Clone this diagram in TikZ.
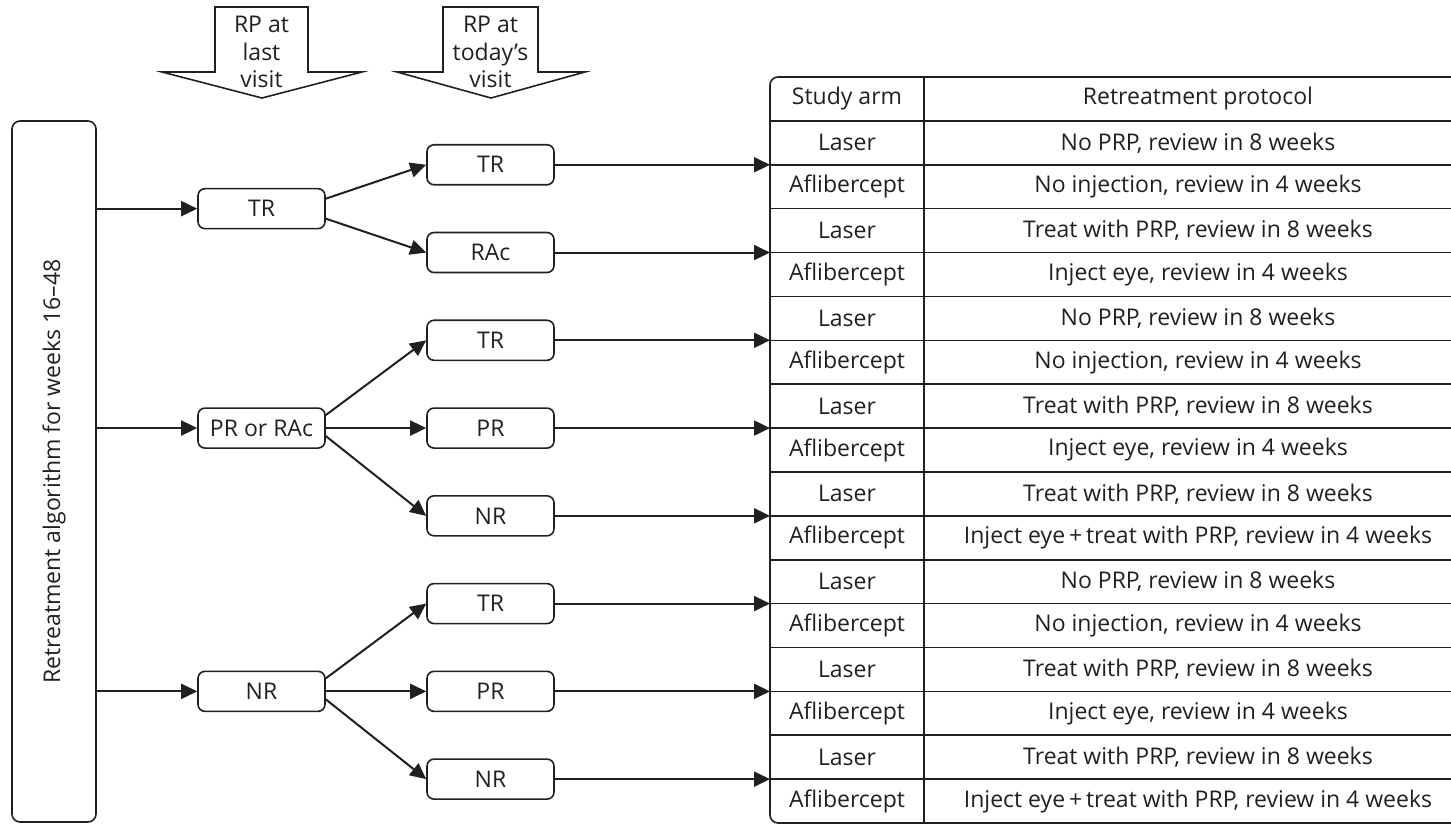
\documentclass[tikz,border=0pt]{standalone}
\usepackage{fontspec}
\setmainfont{Open Sans}
\usetikzlibrary{arrows.meta,calc}
\definecolor{ink}{RGB}{35,31,32}
\def\comma{,}
\begin{document}
\begin{tikzpicture}[x=1pt,y=-1pt,
  every node/.style={text=ink},
  fnt/.style={font=\fontsize{23}{27}\selectfont},
  box/.style={draw=ink, line width=1.6pt, rounded corners=7pt, minimum width=127pt, minimum height=40pt, inner sep=0pt, fnt},
  conn/.style={draw=ink, line width=2pt, -{Triangle[length=16pt,width=15pt]}},
  tline/.style={draw=ink, line width=1.6pt},
  blk/.style={draw=ink, line width=1.6pt, line join=miter},
  txt/.style={inner sep=0pt, fnt},
  ]
\useasboundingbox (0,0) rectangle (1451,825);

% block arrows at top
\draw[blk] (215,7) -- (308,7) -- (308,72) -- (362,72) -- (262,98) -- (162,72) -- (215,72) -- cycle;
\draw[blk] (443,7) -- (538,7) -- (538,72) -- (585,72) -- (491,98) -- (397,72) -- (443,72) -- cycle;
\node[txt, align=center, font=\fontsize{23}{27.5}\selectfont] (h1) at (261.5,52) {RP at\\last\\visit};
\node[txt, align=center, font=\fontsize{23}{27.5}\selectfont] (h2) at (490.5,52) {RP at\\today’s\\visit};

% left box
\node[draw=ink, line width=1.6pt, rounded corners=8pt, rotate=90, minimum width=701pt, minimum height=84pt, inner sep=0pt, fnt] (lb) at (54,471.5) {Retreatment algorithm for weeks 16--48};

% table
\pgfmathsetmacro{\rh}{(823-77)/17}
\coordinate (T) at (770,77);
\draw[tline, rounded corners=8pt] (1480,77) -- (770,77) -- (770,823) -- (1480,823);
\draw[tline] (924,77) -- (924,823);
\foreach \k in {1,...,16} {
  \draw[tline] (770,{77+\k*\rh}) -- (1480,{77+\k*\rh});
}
\node[txt] (hc1) at (847,{77+0.5*\rh}) {Study arm};
\node[txt] (hc2) at (1198,{77+0.5*\rh}) {Retreatment protocol};
\foreach \k/\p in {
  1/No PRP\comma{} review in 8 weeks,
  2/No injection\comma{} review in 4 weeks,
  3/Treat with PRP\comma{} review in 8 weeks,
  4/Inject eye\comma{} review in 4 weeks,
  5/No PRP\comma{} review in 8 weeks,
  6/No injection\comma{} review in 4 weeks,
  7/Treat with PRP\comma{} review in 8 weeks,
  8/Inject eye\comma{} review in 4 weeks,
  9/Treat with PRP\comma{} review in 8 weeks,
  10/Inject eye\,+\,treat with PRP\comma{} review in 4 weeks,
  11/No PRP\comma{} review in 8 weeks,
  12/No injection\comma{} review in 4 weeks,
  13/Treat with PRP\comma{} review in 8 weeks,
  14/Inject eye\comma{} review in 4 weeks,
  15/Treat with PRP\comma{} review in 8 weeks,
  16/Inject eye\,+\,treat with PRP\comma{} review in 4 weeks} {
  \pgfmathtruncatemacro{\odd}{mod(\k,2)}
  \ifnum\odd=1
    \node[txt] (a\k) at (847,{77+(\k+0.5)*\rh}) {Laser};
  \else
    \node[txt] (a\k) at (847,{77+(\k+0.5)*\rh}) {Aflibercept};
  \fi
  \node[txt] (p\k) at (1198,{77+(\k+0.5)*\rh}) {\p};
}

% level 1 nodes
\node[box] (l1a) at (261.5,{77+3*\rh}) {TR};
\node[box] (l1b) at (261.5,{77+8*\rh}) {PR or RAc};
\node[box] (l1c) at (261.5,{77+14*\rh}) {NR};

% level 2 nodes
\node[box] (m1) at (490.5,{77+2*\rh}) {TR};
\node[box] (m2) at (490.5,{77+4*\rh}) {RAc};
\node[box] (m3) at (490.5,{77+6*\rh}) {TR};
\node[box] (m4) at (490.5,{77+8*\rh}) {PR};
\node[box] (m5) at (490.5,{77+10*\rh}) {NR};
\node[box] (m6) at (490.5,{77+12*\rh}) {TR};
\node[box] (m7) at (490.5,{77+14*\rh}) {PR};
\node[box] (m8) at (490.5,{77+16*\rh}) {NR};

% connectors from left box
\foreach \n in {l1a,l1b,l1c} {
  \draw[conn] (lb.south |- \n.west) -- (\n.west);
}
% branches
\draw[conn] ([yshift=10pt]l1a.east) -- (m1.west);
\draw[conn] ([yshift=-10pt]l1a.east) -- (m2.west);
\draw[conn] ([yshift=13pt]l1b.east) -- (m3.west);
\draw[conn] (l1b.east) -- (m4.west);
\draw[conn] ([yshift=-8pt]l1b.east) -- (m5.west);
\draw[conn] ([yshift=13pt]l1c.east) -- (m6.west);
\draw[conn] (l1c.east) -- (m7.west);
\draw[conn] ([yshift=-8pt]l1c.east) -- (m8.west);
% to table
\foreach \n in {m1,m2,m3,m4,m5,m6,m7,m8} {
  \draw[conn] (\n.east) -- (T |- \n.east);
}
\end{tikzpicture}
\end{document}
